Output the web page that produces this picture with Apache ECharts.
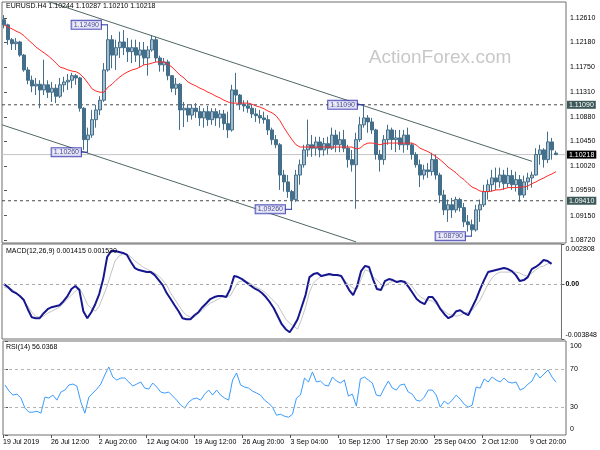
<!DOCTYPE html>
<html><head><meta charset="utf-8">
<script src="https://cdn.jsdelivr.net/npm/echarts@6/dist/echarts.min.js"></script>
<style>html,body{margin:0;padding:0;background:#fff}#c{width:600px;height:450px}</style>
</head><body><div id="c"></div>
<script>
const symbolName = 'EURUSD.H4';
const tickLabels = ['19 Jul 2019','26 Jul 12:00','2 Aug 20:00','12 Aug 04:00','19 Aug 12:00','26 Aug 20:00','3 Sep 04:00','10 Sep 12:00','17 Sep 20:00','25 Sep 04:00','2 Oct 12:00','9 Oct 20:00'];
const tickBars = [0,12,24,36,48,60,72,84,96,108,120,132];
const slotCount = 141;

const open = [
1.1258,1.1249,1.1223,1.1216,1.1219,1.1196,1.1170,1.1152,1.1142,1.1145,
1.1135,1.1144,1.1131,1.1138,1.1124,1.1144,1.1149,1.1152,1.1160,1.1156,
1.1103,1.1048,1.1056,1.1083,1.1100,1.1117,1.1170,1.1223,1.1196,1.1209,
1.1219,1.1209,1.1202,1.1209,1.1196,1.1205,1.1191,1.1205,1.1223,1.1191,
1.1179,1.1184,1.1160,1.1138,1.1145,1.1100,1.1103,1.1091,1.1103,1.1097,
1.1086,1.1097,1.1083,1.1097,1.1086,1.1093,1.1076,1.1065,1.1135,1.1126,
1.1110,1.1107,1.1103,1.1093,1.1090,1.1086,1.1083,1.1065,1.1048,1.1039,
1.0986,1.0974,1.0957,1.0943,1.0986,1.1004,1.1030,1.1039,1.1033,1.1044,
1.1030,1.1041,1.1033,1.1056,1.1039,1.1048,1.1033,1.1013,1.1004,1.1048,
1.1074,1.1086,1.1079,1.1065,1.1022,1.1013,1.1048,1.1065,1.1048,1.1051,
1.1039,1.1056,1.1039,1.1022,1.1004,1.0986,1.0995,1.0992,1.1013,1.0986,
1.0951,1.0925,1.0934,1.0925,1.0943,1.0929,1.0904,1.0899,1.0890,1.0925,
1.0934,1.0957,1.0969,1.0981,1.0974,1.0986,1.0971,1.0985,1.0969,1.0978,
1.0951,1.0974,1.0981,1.0986,1.1022,1.1030,1.1013,1.1044,1.10244];
const high = [
1.1266,1.1251,1.1226,1.1226,1.1221,1.1198,1.1175,1.1160,1.1156,1.1152,
1.1188,1.1152,1.1149,1.1145,1.1156,1.1158,1.1163,1.1165,1.1163,1.1158,
1.1105,1.1069,1.1100,1.1109,1.1124,1.1182,1.1249,1.1231,1.1223,1.1237,
1.1240,1.1226,1.1223,1.1223,1.1219,1.1219,1.1212,1.1231,1.1228,1.1195,
1.1191,1.1188,1.1161,1.1156,1.1147,1.1114,1.1110,1.1110,1.1112,1.1107,
1.1103,1.1107,1.1103,1.1103,1.1100,1.1100,1.1097,1.1144,1.1165,1.1128,
1.1117,1.1117,1.1110,1.1103,1.1100,1.1097,1.1091,1.1069,1.1056,1.1042,
1.0995,1.0986,1.0960,1.0995,1.1013,1.1039,1.1083,1.1056,1.1053,1.1053,
1.1051,1.1053,1.1069,1.1065,1.1062,1.1065,1.1039,1.1030,1.1060,1.1088,
1.1109,1.1091,1.1086,1.1067,1.1030,1.1056,1.1074,1.1069,1.1065,1.1065,
1.1065,1.1069,1.1042,1.1026,1.1013,1.1004,1.1007,1.1025,1.1022,1.0990,
1.0960,1.0943,1.0946,1.0948,1.0946,1.0937,1.0916,1.0908,1.0934,1.0943,
1.0969,1.0978,1.0995,1.0999,1.0999,1.0995,1.0999,1.0995,1.0992,1.0986,
1.0985,1.0990,1.0992,1.1033,1.1039,1.1033,1.1062,1.1051,1.10287];
const low = [
1.1243,1.1214,1.1205,1.1205,1.1193,1.1167,1.1145,1.1131,1.1126,1.1103,
1.1126,1.1121,1.1114,1.1112,1.1121,1.1131,1.1135,1.1138,1.1144,1.1097,
1.1030,1.1026,1.1051,1.1069,1.1091,1.1114,1.1167,1.1173,1.1170,1.1191,
1.1196,1.1184,1.1182,1.1184,1.1175,1.1179,1.1160,1.1202,1.1184,1.1167,
1.1167,1.1152,1.1131,1.1126,1.1065,1.1070,1.1079,1.1083,1.1086,1.1072,
1.1069,1.1072,1.1074,1.1072,1.1069,1.1065,1.1051,1.1062,1.1114,1.1100,
1.1097,1.1095,1.1086,1.1079,1.1076,1.1076,1.1056,1.1039,1.1033,1.0960,
1.0957,1.0946,1.0926,1.0939,1.0969,1.0999,1.1018,1.1018,1.1020,1.1017,
1.1020,1.1022,1.1030,1.1026,1.1026,1.1026,1.0999,1.0992,1.0927,1.1044,
1.1069,1.1060,1.1058,1.1013,1.0992,1.1004,1.1039,1.1030,1.1026,1.1030,
1.1025,1.1030,1.1013,1.0999,1.0965,1.0978,1.0981,1.0985,1.0978,1.0937,
1.0916,1.0904,1.0911,1.0920,1.0922,1.0895,1.0887,1.0879,1.0887,1.0904,
1.0930,1.0943,1.0957,1.0960,1.0964,1.0960,1.0964,1.0960,1.0957,1.0939,
1.0946,1.0960,1.0964,1.0985,1.1004,1.0999,1.1007,1.1013,1.10210];
const close = [
1.1249,1.1223,1.1216,1.1219,1.1196,1.1170,1.1152,1.1142,1.1145,1.1135,
1.1144,1.1131,1.1138,1.1124,1.1144,1.1149,1.1152,1.1160,1.1156,1.1103,
1.1048,1.1056,1.1083,1.1100,1.1117,1.1170,1.1223,1.1196,1.1209,1.1219,
1.1209,1.1202,1.1209,1.1196,1.1205,1.1191,1.1205,1.1223,1.1191,1.1179,
1.1184,1.1160,1.1138,1.1145,1.1100,1.1103,1.1091,1.1103,1.1097,1.1086,
1.1097,1.1083,1.1097,1.1086,1.1093,1.1076,1.1065,1.1135,1.1126,1.1110,
1.1107,1.1103,1.1093,1.1090,1.1086,1.1083,1.1065,1.1048,1.1039,1.0986,
1.0974,1.0957,1.0943,1.0986,1.1004,1.1030,1.1039,1.1033,1.1044,1.1030,
1.1041,1.1033,1.1056,1.1039,1.1048,1.1033,1.1013,1.1004,1.1048,1.1074,
1.1086,1.1079,1.1065,1.1022,1.1013,1.1048,1.1065,1.1048,1.1051,1.1039,
1.1056,1.1039,1.1022,1.1004,1.0986,1.0995,1.0992,1.1013,1.0986,1.0951,
1.0925,1.0934,1.0925,1.0943,1.0929,1.0904,1.0899,1.0890,1.0925,1.0934,
1.0957,1.0969,1.0981,1.0974,1.0986,1.0971,1.0985,1.0969,1.0978,1.0951,
1.0974,1.0981,1.0986,1.1022,1.1030,1.1013,1.1044,1.1030,1.10218];
const movingAvg = [
1.1249,1.1245,1.1242,1.1238,1.1235,1.1230,1.1223,1.1217,1.1210,1.1205,
1.1200,1.1195,1.1189,1.1182,1.1175,1.1173,1.1170,1.1168,1.1167,1.1163,
1.1156,1.1147,1.1137,1.1133,1.1131,1.1131,1.1140,1.1145,1.1152,1.1158,
1.1163,1.1167,1.1170,1.1172,1.1175,1.1179,1.1180,1.1182,1.1184,1.1184,
1.1184,1.1180,1.1175,1.1168,1.1161,1.1156,1.1149,1.1145,1.1142,1.1138,
1.1135,1.1131,1.1128,1.1124,1.1121,1.1117,1.1114,1.1112,1.1112,1.1112,
1.1112,1.1112,1.1110,1.1107,1.1105,1.1102,1.1098,1.1095,1.1090,1.1081,
1.1069,1.1058,1.1048,1.1039,1.1035,1.1035,1.1035,1.1035,1.1035,1.1035,
1.1035,1.1035,1.1035,1.1035,1.1035,1.1035,1.1035,1.1035,1.1032,1.1033,
1.1039,1.1042,1.1042,1.1041,1.1039,1.1041,1.1042,1.1042,1.1042,1.1042,
1.1042,1.1042,1.1042,1.1039,1.1033,1.1030,1.1027,1.1023,1.1018,1.1013,
1.1007,1.1000,1.0995,1.0990,1.0983,1.0978,1.0971,1.0965,1.0962,1.0958,
1.0957,1.0957,1.0958,1.0960,1.0960,1.0962,1.0964,1.0964,1.0964,1.0965,
1.0965,1.0967,1.0971,1.0974,1.0978,1.0981,1.0985,1.0988,1.0992];
const macdLine = [
0,-0.00021,-0.00049,-0.00063,-0.00084,-0.00112,-0.00176,-0.00232,-0.00239,-0.00239,
-0.00204,-0.00176,-0.00162,-0.00155,-0.00148,-0.00120,-0.00084,-0.00035,-0.00014,-0.00042,
-0.00190,-0.00239,-0.00197,-0.00141,-0.00070,0.00035,0.00190,0.00232,0.00232,0.00225,
0.00218,0.00204,0.00155,0.00112,0.00098,0.00091,0.00084,0.00084,0.00063,0.00028,
-0.00007,-0.00063,-0.00105,-0.00148,-0.00190,-0.00239,-0.00246,-0.00246,-0.00218,-0.00197,
-0.00162,-0.00134,-0.00105,-0.00091,-0.00084,-0.00084,-0.00091,-0.00035,0.00056,0.00049,
0.00035,0.00014,-0.00007,-0.00028,-0.00042,-0.00063,-0.00091,-0.00127,-0.00169,-0.00225,
-0.00281,-0.00316,-0.00337,-0.00295,-0.00246,-0.00162,-0.00077,0.00049,0.00070,0.00077,
0.00056,0.00063,0.00070,0.00063,0.00063,0.00056,0.00007,-0.00042,-0.00077,-0.00014,
0.00091,0.00127,0.00120,0.00035,-0.00035,-0.00042,0.00021,0.00035,0.00028,0.00014,
0.00021,0.00014,-0.00021,-0.00063,-0.00105,-0.00127,-0.00141,-0.00091,-0.00091,-0.00127,
-0.00176,-0.00211,-0.00239,-0.00225,-0.00190,-0.00183,-0.00204,-0.00218,-0.00162,-0.00105,
-0.00035,0.00028,0.00084,0.00091,0.00098,0.00105,0.00112,0.00105,0.00091,0.00063,
0.00021,0.00028,0.00049,0.00105,0.00120,0.00141,0.00169,0.00162,0.001415];
const signalLine = [
-0.00021,-0.00028,-0.00035,-0.00056,-0.00084,-0.00120,-0.00155,-0.00197,-0.00225,-0.00232,
-0.00225,-0.00204,-0.00190,-0.00176,-0.00162,-0.00134,-0.00105,-0.00077,-0.00049,-0.00028,
-0.00077,-0.00141,-0.00169,-0.00190,-0.00155,-0.00084,-0.00014,0.00077,0.00162,0.00197,
0.00211,0.00211,0.00190,0.00162,0.00141,0.00120,0.00105,0.00091,0.00077,0.00056,
0.00028,-0.00007,-0.00063,-0.00105,-0.00148,-0.00190,-0.00218,-0.00232,-0.00232,-0.00204,
-0.00183,-0.00155,-0.00134,-0.00120,-0.00105,-0.00091,-0.00084,-0.00084,-0.00035,0.00014,
0.00021,0.00021,0.00007,-0.00014,-0.00028,-0.00042,-0.00063,-0.00091,-0.00120,-0.00148,
-0.00197,-0.00246,-0.00274,-0.00295,-0.00316,-0.00246,-0.00162,-0.00056,0.00007,0.00035,
0.00056,0.00063,0.00063,0.00063,0.00063,0.00056,0.00021,-0.00007,-0.00028,-0.00035,
0.00035,0.00098,0.00091,0.00049,0.00028,0,-0.00014,0.00007,0.00021,0.00021,
0.00021,0.00021,0.00007,-0.00021,-0.00063,-0.00091,-0.00105,-0.00112,-0.00120,-0.00141,
-0.00169,-0.00190,-0.00211,-0.00218,-0.00225,-0.00218,-0.00204,-0.00197,-0.00183,-0.00148,
-0.00112,-0.00056,0,0.00042,0.00070,0.00084,0.00084,0.00084,0.00084,0.00084,
0.00077,0.00063,0.00056,0.00077,0.00098,0.00120,0.00127,0.00141,0.001520];
const rsiLine = [
53.2,46.7,42.5,43.5,39.3,28.6,24.3,24.3,25.3,23.2,
40.3,39.3,42.5,37.1,45.7,47.8,53.2,54.2,52.1,35.0,
23.2,40.3,44.6,48.9,54.2,63.9,72.4,61.7,58.5,60.6,
60.6,56.4,52.1,54.2,56.4,49.9,48.9,55.3,51.0,45.7,
44.6,45.7,41.4,37.1,31.8,28.6,35.0,38.2,39.3,37.1,
43.5,47.8,42.5,47.8,42.5,39.3,37.1,58.5,66.0,53.2,
51.0,49.9,46.7,44.6,42.5,37.1,33.9,29.6,21.1,22.1,
20.0,18.9,22.1,39.3,42.5,60.6,56.4,67.1,56.4,57.4,
53.2,52.1,61.7,57.4,55.3,58.5,41.4,43.5,30.7,59.6,
61.7,58.5,55.3,42.5,41.4,49.9,57.4,49.9,47.8,53.2,
54.2,45.7,43.5,37.1,36.0,40.3,47.8,47.8,42.5,29.6,
36.0,32.8,37.1,42.5,38.2,32.8,29.6,31.8,51.0,49.9,
59.6,56.4,61.7,58.5,56.4,60.6,56.4,55.3,56.4,47.8,
49.9,54.2,57.4,66.0,60.6,64.9,69.2,61.7,56.0368];

const priceTicks = [1.0872,1.0915,1.0959,1.1002,1.1045,1.1088,1.1131,1.1175,1.1218,1.1261];
const macdTicks = [-0.003848,0,0.002808];
const rsiTicks = [0,30,70,100];
const rsiLevels = [30,70];
const resistance = 1.1109, support = 1.0941, lastPrice = 1.10218;
const calloutBars = [26,21,72,90,117];
const calloutPrices = [1.1249,1.1026,1.0926,1.1109,1.0879];
const upperChannel = [[11,1.1290],[132,1.1010]];
const lowerChannel = [[-0.5,1.1074],[88,1.0869]];

const FONT = 'Liberation Sans';
const cats = Array.from({length: slotCount}, (_, i) => String(i));
const candles = open.map((o, i) => [o, close[i], low[i], high[i]]);
const tickPos = tickBars.map(b => b - 0.5);
const last = open.length - 1;
const headText = `${symbolName} ${open[last].toFixed(5)} ${high[last].toFixed(5)} ${low[last].toFixed(5)} ${close[last].toFixed(5)}`;
const macdText = `MACD(12,26,9) ${macdLine[last].toFixed(6)} ${signalLine[last].toFixed(6)}`;
const rsiText = `RSI(14) ${rsiLine[last].toFixed(4)}`;

const chart = echarts.init(document.getElementById('c'), null, {renderer: 'canvas'});
const gridStyle = {show: true, borderColor: '#6e6e6e', borderWidth: 1, backgroundColor: 'transparent'};
const lbl = {fontFamily: FONT, fontSize: 7, color: '#000'};

const hLevel = (v, dashed, lineColor, boxColor) => ({
  type: 'line', xAxisIndex: 1, yAxisIndex: 0, symbol: 'none', z: 1, silent: true,
  data: [[-0.5, v], [slotCount - 0.5, v]],
  lineStyle: {type: dashed ? [3, 3] : 'solid', color: lineColor, width: 1},
  endLabel: {show: true, distance: 1, formatter: v.toFixed(5), color: '#fff',
    backgroundColor: boxColor, padding: [1, 2, 0, 2], fontFamily: FONT, fontSize: 7}
});

const series = [
  hLevel(resistance, true, '#4a4a4a', '#3c5858'),
  hLevel(lastPrice, false, '#c4c4c4', '#000000'),
  hLevel(support, true, '#4a4a4a', '#3c5858'),
  {type: 'candlestick', xAxisIndex: 0, yAxisIndex: 0, data: candles, barWidth: 3, z: 3,
   itemStyle: {color: '#a4bccc', color0: '#436f8b', borderColor: '#436f8b', borderColor0: '#436f8b', borderWidth: 1}},
  {type: 'line', xAxisIndex: 0, yAxisIndex: 0, data: movingAvg, symbol: 'none', lineStyle: {color: '#ff2a2a', width: 1}, z: 4},
  {type: 'line', xAxisIndex: 1, yAxisIndex: 0, data: upperChannel, symbol: 'none', lineStyle: {color: '#506666', width: 1}},
  {type: 'line', xAxisIndex: 1, yAxisIndex: 0, data: lowerChannel, symbol: 'none', lineStyle: {color: '#506666', width: 1}},
  {type: 'scatter', xAxisIndex: 1, yAxisIndex: 0, symbolSize: 0.1, itemStyle: {color: 'rgba(0,0,0,0)'}, z: 6,
   data: calloutBars.map((b, i) => [b, calloutPrices[i]]),
   label: {show: true, position: 'left', distance: 7, formatter: p => p.value[1].toFixed(5),
     backgroundColor: '#e6e6fa', borderColor: '#2a2aa8', borderWidth: 1, padding: [1, 2, 0, 2],
     color: '#1a1a6e', fontFamily: FONT, fontSize: 7}}
];
calloutBars.forEach((b, i) => series.push({type: 'line', xAxisIndex: 1, yAxisIndex: 0, symbol: 'none', z: 6,
  data: [[b - 1.75, calloutPrices[i]], [b, calloutPrices[i]]], lineStyle: {color: '#2a2aa8', width: 1}}));
series.push(
  {type: 'line', xAxisIndex: 2, yAxisIndex: 1, data: signalLine, symbol: 'none', lineStyle: {color: '#c4c4c4', width: 1},
   markLine: {silent: true, symbol: ['none', 'none'], label: {show: false}, animation: false,
     data: [{yAxis: 0}], lineStyle: {type: [3, 3], color: '#a8a8a8', width: 1}}},
  {type: 'line', xAxisIndex: 2, yAxisIndex: 1, data: macdLine, symbol: 'none', lineStyle: {color: '#16168f', width: 2}},
  {type: 'line', xAxisIndex: 3, yAxisIndex: 2, data: rsiLine, symbol: 'none', lineStyle: {color: '#3a9cff', width: 1},
   markLine: {silent: true, symbol: ['none', 'none'], label: {show: false}, animation: false,
     data: rsiLevels.map(v => ({yAxis: v})), lineStyle: {type: [3, 3], color: '#b4b4b4', width: 1}}}
);

chart.setOption({
  animation: false,
  backgroundColor: '#ffffff',
  grid: [
    Object.assign({left: 2, top: 2, width: 564, height: 241}, gridStyle),
    Object.assign({left: 2, top: 244, width: 564, height: 95}, gridStyle),
    Object.assign({left: 2, top: 341, width: 564, height: 94}, gridStyle)
  ],
  xAxis: [
    {type: 'category', gridIndex: 0, data: cats, boundaryGap: true, show: false},
    {type: 'value', gridIndex: 0, min: -0.5, max: slotCount - 0.5, show: false, position: 'top'},
    {type: 'category', gridIndex: 1, data: cats, boundaryGap: true, show: false},
    {type: 'category', gridIndex: 2, data: cats, boundaryGap: true, show: false, position: 'top'},
    {type: 'value', gridIndex: 2, min: -0.5, max: slotCount - 0.5, position: 'bottom',
     axisLine: {show: false}, splitLine: {show: false},
     axisTick: {show: true, customValues: tickPos, length: 3, lineStyle: {color: '#555'}},
     axisLabel: Object.assign({customValues: tickPos, align: 'left', margin: 4,
       formatter: v => tickLabels[tickPos.indexOf(v)] || ''}, lbl)}
  ],
  yAxis: [
    {type: 'value', gridIndex: 0, position: 'right', min: 1.0867, max: 1.1289,
     axisLine: {show: false}, splitLine: {show: false},
     axisTick: {show: true, customValues: priceTicks, length: 3, lineStyle: {color: '#555'}},
     axisLabel: Object.assign({customValues: priceTicks, margin: 4, formatter: v => v.toFixed(5)}, lbl)},
    {type: 'value', gridIndex: 1, position: 'right', min: -0.003848, max: 0.002808,
     axisLine: {show: false}, splitLine: {show: false},
     axisTick: {show: true, customValues: macdTicks, length: 3, lineStyle: {color: '#555'}},
     axisLabel: Object.assign({customValues: macdTicks, margin: 4,
       formatter: v => v > 0 ? '{t|' + v.toFixed(6) + '}' : (v < 0 ? '{b|' + v.toFixed(6) + '}' : '{z|0.00}'),
       rich: {t: {padding: [10, 0, 0, 0], fontSize: 7, fontFamily: FONT}, b: {padding: [0, 0, 8, 0], fontSize: 7, fontFamily: FONT},
              z: {fontSize: 7, fontFamily: FONT, fontWeight: 'bold'}}}, lbl)},
    {type: 'value', gridIndex: 2, position: 'right', min: 0, max: 100,
     axisLine: {show: false}, splitLine: {show: false},
     axisTick: {show: true, customValues: rsiTicks, length: 3, lineStyle: {color: '#555'}},
     axisLabel: Object.assign({customValues: rsiTicks, margin: 4,
       formatter: v => v === 100 ? '{t|100}' : (v === 0 ? '{b|0}' : String(v)),
       rich: {t: {padding: [10, 0, 0, 0], fontSize: 7, fontFamily: FONT}, b: {padding: [0, 0, 11, 0], fontSize: 7, fontFamily: FONT}}}, lbl)}
  ],
  graphic: [
    {type: 'text', x: 440, y: 58, z: -10, silent: true,
     style: {text: 'ActionForex.com', fill: '#c8c8c8', font: '19px "Liberation Sans"', align: 'center', verticalAlign: 'middle'}},
    {type: 'text', left: 6, top: 3, z: 10, style: {text: headText, fill: '#000', font: '7px "Liberation Sans"'}},
    {type: 'text', left: 6, top: 248, z: 10, style: {text: macdText, fill: '#000', font: '7px "Liberation Sans"'}},
    {type: 'text', left: 6, top: 344, z: 10, style: {text: rsiText, fill: '#000', font: '7px "Liberation Sans"'}}
  ],
  series: series
});
</script></body></html>
